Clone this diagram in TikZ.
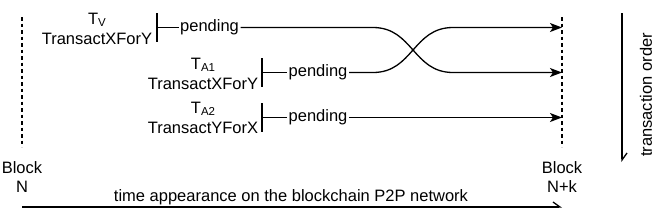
\documentclass[tikz,border=0pt]{standalone}
\usepackage{fontspec}
\setmainfont{Liberation Sans}
\usetikzlibrary{arrows.meta}
\newcommand{\sbs}[1]{\raisebox{-1.2pt}{\fontsize{11.5}{11.5}\selectfont #1}}
\begin{document}
\begin{tikzpicture}[x=1pt,y=-1pt,
  every node/.style={font=\fontsize{16.5}{19.5}\selectfont, inner sep=0pt},
  ln/.style={line width=1.3pt},
  blk/.style={ln, dash pattern=on 3.5pt off 3pt},
  tip/.style={-{Stealth[length=12pt,width=9pt,inset=3pt]}},
  hp/.style={-{Straight Barb[harpoon,length=7pt,width=10pt]}},
  lbl/.style={align=center},
  pend/.style={anchor=west, inner xsep=1.5pt}]
\useasboundingbox (0,0) rectangle (658,223);
% blocks
\node[lbl] (bN) at (22,177) {Block\\N};
\node[lbl] (bK) at (562,177) {Block\\N+k};
\coordinate (nT) at (22,17); \coordinate (nB) at (22,147);
\coordinate (kT) at (562,17); \coordinate (kB) at (562,147);
\draw[blk] (nT) -- (nB);
\draw[blk] (kT) -- (kB);
% T_V
\node[lbl] (lv) at (97,29) {T\sbs{V}\\TransactXForY};
\coordinate (bv) at (157,27.5);
\draw[ln] ([yshift=14.5pt]bv) -- ([yshift=-14.5pt]bv);
\node[pend] (pv) at (178.5,27.5) {pending};
\draw[ln] (bv) -- (pv.west);
\coordinate (ev) at (562,72.5);
\draw[ln,tip] (pv.east) -- (373,27.5) .. controls (413,27.5) and (413,72.5) .. (453,72.5) -- (ev);
% T_A1
\node[lbl] (la1) at (203,74) {T\sbs{A1}\\TransactXForY};
\coordinate (ba1) at (262,72.5);
\draw[ln] ([yshift=14.5pt]ba1) -- ([yshift=-14.5pt]ba1);
\node[pend] (pa1) at (287,72.5) {pending};
\draw[ln] (ba1) -- (pa1.west);
\coordinate (ea1) at (562,27.5);
\draw[ln,tip] (pa1.east) -- (373,72.5) .. controls (413,72.5) and (413,27.5) .. (453,27.5) -- (ea1);
% T_A2
\node[lbl] (la2) at (203,118) {T\sbs{A2}\\TransactYForX};
\coordinate (ba2) at (262,117.5);
\draw[ln] ([yshift=14.5pt]ba2) -- ([yshift=-14.5pt]ba2);
\node[pend] (pa2) at (287,117.5) {pending};
\draw[ln] (ba2) -- (pa2.west);
\coordinate (ea2) at (562,117.5);
\draw[ln,tip] (pa2.east) -- (ea2);
% time axis
\coordinate (tS) at (22,207); \coordinate (tE) at (562,207);
\draw[ln,hp] (tS) -- (tE);
\node (tt) at (291,197.5) {time appearance on the blockchain P2P network};
% transaction order
\coordinate (oS) at (622,13); \coordinate (oE) at (622,162);
\draw[ln,hp] (oS) -- (oE);
\node[rotate=90] (ot) at (646,95) {transaction order};
\end{tikzpicture}
\end{document}
